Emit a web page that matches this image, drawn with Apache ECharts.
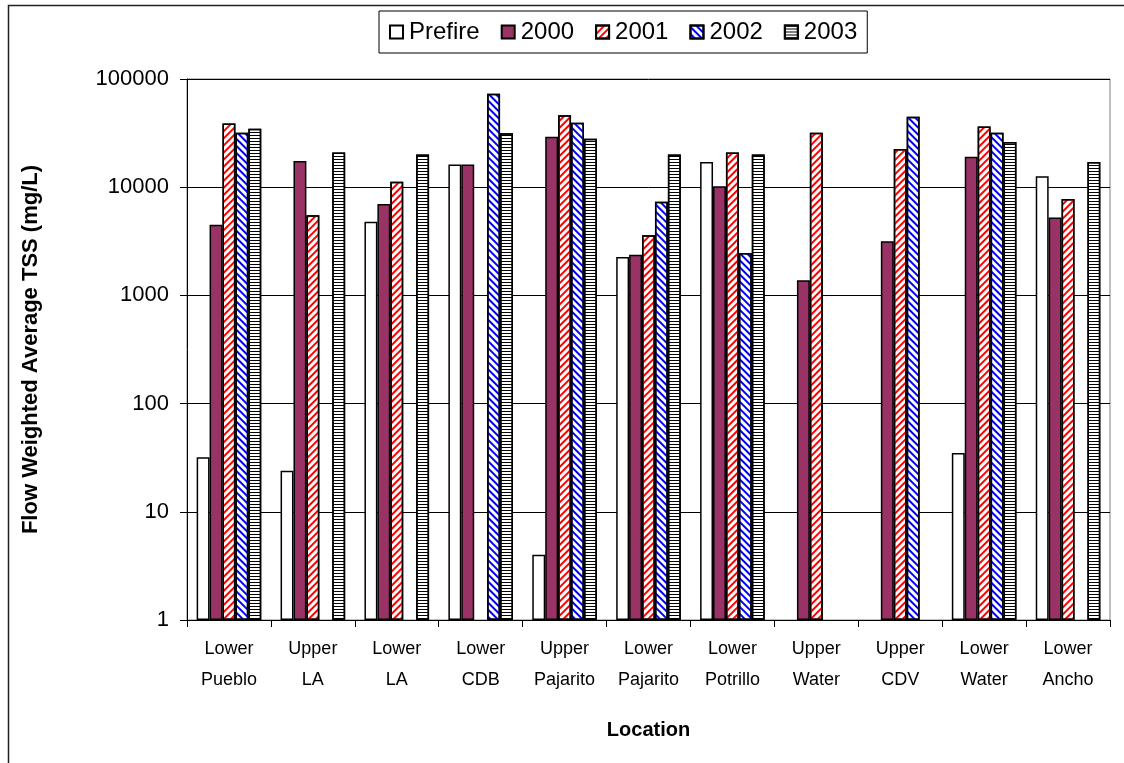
<!DOCTYPE html>
<html>
<head>
<meta charset="utf-8">
<script src="https://cdn.jsdelivr.net/npm/echarts@6/dist/echarts.min.js"></script>
<style>
html,body{margin:0;padding:0;background:#fff;}
#chart{width:1124px;height:763px;}
</style>
</head>
<body>
<div id="chart"></div>
<script>
var categories = ["Lower\nPueblo","Upper\nLA","Lower\nLA","Lower\nCDB","Upper\nPajarito","Lower\nPajarito","Lower\nPotrillo","Upper\nWater","Upper\nCDV","Lower\nWater","Lower\nAncho"];
var seriesNames = ["Prefire","2000","2001","2002","2003"];
var prefire = [32, 24, 4800, 16200, 4, 2270, 17100, null, null, 35, 12600];
var y2000 = [4500, 17500, 7000, 16200, 29200, 2380, 10200, 1380, 3170, 19100, 5260];
var y2001 = [38800, 5500, 11200, null, 46200, 3600, 20900, 31800, 22600, 36400, 7760];
var y2002 = [31800, null, null, 73100, 39400, 7340, 2460, null, 44700, 31800, null];
var y2003 = [34700, 20900, 20100, 31600, 28000, 20100, 20100, null, null, 26100, 17100];
var yTicks = [1, 10, 100, 1000, 10000, 100000];

var chart = echarts.init(document.getElementById('chart'), null, {renderer:'canvas'});
var FONT = 'Liberation Sans';
var border = {borderColor:'#000', borderWidth:1.5};
function mk(name, data, style){
  return {name:name, type:'bar', data:data, barGap:'0%', barCategoryGap:'23%',
    itemStyle:Object.assign({}, border, style)};
}
var option = {
  animation:false,
  backgroundColor:'#fff',
  textStyle:{fontFamily:FONT},
  legend:{
    data:seriesNames, left:379, top:11, orient:'horizontal', icon:'rect',
    padding:[9,10,9,10], itemGap:21, itemWidth:13, itemHeight:13,
    borderColor:'#000', borderWidth:1, backgroundColor:'#fff',
    textStyle:{fontFamily:FONT, fontSize:24, color:'#000', padding:[0,0,0,1]}
  },
  grid:{left:187, right:14, top:79, bottom:143, show:true, borderColor:'#808080', borderWidth:1, backgroundColor:'transparent'},
  xAxis:{
    type:'category', data:categories,
    name:'Location', nameLocation:'middle', nameGap:100,
    nameTextStyle:{fontFamily:FONT, fontSize:20, fontWeight:'bold', color:'#000'},
    axisLine:{lineStyle:{color:'#000', width:1}},
    axisTick:{show:true, length:7, lineStyle:{color:'#000'}},
    axisLabel:{fontFamily:FONT, fontSize:18, color:'#000', lineHeight:31, margin:14, interval:0}
  },
  yAxis:{
    type:'log', logBase:10, min:1, max:100000,
    name:'Flow Weighted Average TSS (mg/L)', nameLocation:'middle', nameGap:145,
    nameTextStyle:{fontFamily:FONT, fontSize:22, fontWeight:'bold', color:'#000'},
    axisLine:{show:true, lineStyle:{color:'#000', width:1}},
    axisTick:{show:true, length:7, inside:false, lineStyle:{color:'#000'}},
    axisLabel:{fontFamily:FONT, fontSize:22, color:'#000', margin:18,
      formatter:function(v){ return yTicks.indexOf(Math.round(v))>=0 ? String(Math.round(v)) : ''; }},
    splitLine:{show:true, lineStyle:{color:'#000', width:1}},
    minorTick:{show:false}
  },
  graphic:[{type:'rect', left:6, top:3, shape:{width:1300, height:1000}, style:{fill:'none', stroke:'#222', lineWidth:1.5}, silent:true, z:-1}],
  series:[
    mk('Prefire', prefire, {color:'#fff'}),
    mk('2000', y2000, {color:'#993366'}),
    mk('2001', y2001, {color:'#fff', decal:{symbol:'rect', symbolSize:1, color:'#ff0000', dashArrayX:[1,0], dashArrayY:[2,3], rotation:-Math.PI/4}}),
    mk('2002', y2002, {color:'#fff', decal:{symbol:'rect', symbolSize:1, color:'#0000ff', dashArrayX:[1,0], dashArrayY:[2,3], rotation:Math.PI/4}}),
    mk('2003', y2003, {color:'#fff', decal:{symbol:'rect', symbolSize:1, color:'#000', dashArrayX:[1,0], dashArrayY:[1,2], rotation:0}})
  ]
};
chart.setOption(option);
</script>
</body>
</html>
